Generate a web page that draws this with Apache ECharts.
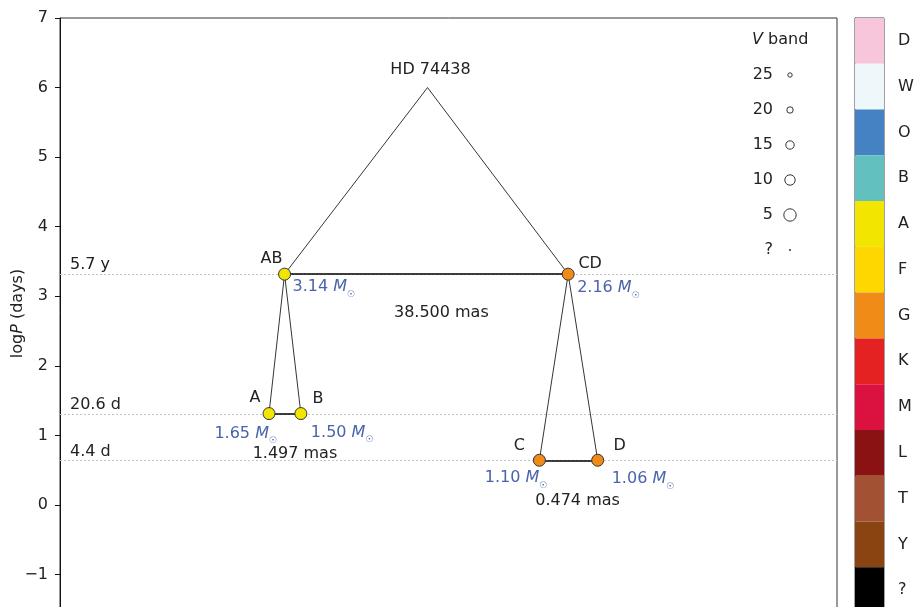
<!DOCTYPE html>
<html>
<head>
<meta charset="UTF-8">
<title>HD 74438</title>
<script src="https://cdn.jsdelivr.net/npm/echarts@6/dist/echarts.min.js"></script>
<style>
  html, body { margin: 0; padding: 0; background: #fff; }
  #chart { width: 919px; height: 607px; }
</style>
</head>
<body>
<div id="chart"></div>
<script type="text/javascript">
// hierarchy nodes: horizontal slot (0-100, no units), logP (days), mass (Msun), spectral class
var nodeNames = ['HD 74438', 'AB', 'CD', 'A', 'B', 'C', 'D'];
var nodeX = [47.3, 28.9, 65.4, 26.9, 31.0, 61.7, 69.2];
var nodeLogP = [6.0, 3.318, 3.318, 1.314, 1.314, 0.643, 0.643];
var nodeMass = [null, '3.14', '2.16', '1.65', '1.50', '1.10', '1.06'];
var nodeClass = [null, 'A', 'G', 'A', 'A', 'G', 'G'];

// tree edges parent -> child
var edgeFrom = ['HD 74438', 'HD 74438', 'AB', 'AB', 'CD', 'CD'];
var edgeTo = ['AB', 'CD', 'A', 'B', 'C', 'D'];

// orbits
var orbitPairs = [['AB', 'CD'], ['A', 'B'], ['C', 'D']];
var orbitSep = ['38.500', '1.497', '0.474'];
var orbitPeriod = ['5.7 y', '20.6 d', '4.4 d'];
var orbitLogP = [3.318, 1.314, 0.643];

var yTicks = [-1, 0, 1, 2, 3, 4, 5, 6, 7];

// spectral class colour bar
var classNames = ['D', 'W', 'O', 'B', 'A', 'F', 'G', 'K', 'M', 'L', 'T', 'Y', '?'];
var classColors = ['#f8c6da', '#eef7f9', '#4482c4', '#62c0be', '#f2e500', '#fed700', '#f18b18',
                   '#e32221', '#db1240', '#8a1213', '#a25232', '#894412', '#000000'];

// V band legend entries
var vBandLabels = ['25', '20', '15', '10', '5', '?'];

var FONT = 'DejaVu Sans';
var TXT = '#222';
var BLUE = '#4a64ac';

// label placement (pixels)
var nameOffset = { 'HD 74438': [3, -18], AB: [-13, -15], CD: [22, -10], A: [-14, -16],
                   B: [17, -15], C: [-20, -14], D: [22, -14] };
var massPlace = { AB: ['left', 8, 13], CD: ['left', 9, 14], A: ['right', 8, 20],
                  B: ['left', 10, 19], C: ['right', 8, 18], D: ['left', 14, 19] };
var sepOffset = [[15, 39], [10, 40], [9, 41]];

function idx(n) { return nodeNames.indexOf(n); }
function classColor(c) { return classColors[classNames.indexOf(c)]; }

var nodeData = [], massData = [];
for (var i = 0; i < nodeNames.length; i++) {
	var n = nodeNames[i];
	nodeData.push({
		name: n,
		value: [nodeX[i], nodeLogP[i]],
		symbolSize: nodeClass[i] ? 12 : 0,
		itemStyle: { color: nodeClass[i] ? classColor(nodeClass[i]) : 'transparent' },
		label: { offset: nameOffset[n] }
	});
	if (nodeMass[i]) {
		var p = massPlace[n];
		massData.push({
			name: nodeMass[i],
			value: [nodeX[i], nodeLogP[i]],
			label: { align: p[0], offset: [p[1], p[2]] }
		});
	}
}

var edgeData = [];
for (var i = 0; i < edgeFrom.length; i++) {
	var a = idx(edgeFrom[i]), b = idx(edgeTo[i]);
	edgeData.push({ coords: [[nodeX[a], nodeLogP[a]], [nodeX[b], nodeLogP[b]]] });
}

var orbitData = [], sepData = [], periodLines = [];
for (var i = 0; i < orbitPairs.length; i++) {
	var a = idx(orbitPairs[i][0]), b = idx(orbitPairs[i][1]);
	orbitData.push({ coords: [[nodeX[a], nodeLogP[a]], [nodeX[b], nodeLogP[b]]] });
	sepData.push({
		name: orbitSep[i] + ' mas',
		value: [(nodeX[a] + nodeX[b]) / 2, (nodeLogP[a] + nodeLogP[b]) / 2],
		label: { offset: sepOffset[i] }
	});
	periodLines.push({ yAxis: orbitLogP[i], label: { formatter: orbitPeriod[i] } });
}

// V band legend as graphic
var legendChildren = [{
	type: 'text', left: 752, top: 32,
	style: { text: '{i|V} band', fill: TXT, font: '16px ' + FONT,
		rich: { i: { fontStyle: 'italic', fontSize: 16, fontFamily: FONT, fill: TXT } } }
}];
for (var i = 0; i < vBandLabels.length; i++) {
	var cy = 75 + i * 35;
	legendChildren.push({
		type: 'text', x: 773, y: cy,
		style: { text: vBandLabels[i], fill: TXT, font: '16px ' + FONT, align: 'right', verticalAlign: 'middle' }
	});
	var mag = parseFloat(vBandLabels[i]);
	legendChildren.push({
		type: 'circle',
		shape: { cx: 790, cy: cy, r: isNaN(mag) ? 1 : 7.2 - mag / 5 },
		style: isNaN(mag) ? { fill: '#333' } : { fill: 'none', stroke: '#333', lineWidth: 1 }
	});
}

var chart = echarts.init(document.getElementById('chart'));
var option = {
	animation: false,
	textStyle: { fontFamily: FONT },
	grid: [
		{ left: 60, right: 82, top: 18, bottom: -2, show: true, borderColor: '#333', borderWidth: 1,
		  outerBoundsMode: 'none', containLabel: false },
		{ left: 855, width: 29, top: 18, height: 595, show: true, borderColor: '#444', borderWidth: 1,
		  outerBoundsMode: 'none', containLabel: false }
	],
	xAxis: [
		{ type: 'value', min: 0, max: 100, show: false, gridIndex: 0 },
		{ type: 'value', min: 0, max: 1, show: false, gridIndex: 1 }
	],
	yAxis: [
		{
			type: 'value', gridIndex: 0, min: -1.495, max: 7,
			name: '{a|log}{b|P}{a| (days)}', nameLocation: 'middle', nameGap: 34, nameRotate: 90,
			nameMoveOverlap: false,
			nameTextStyle: { rich: {
				a: { fontSize: 16, color: TXT, fontFamily: FONT },
				b: { fontSize: 16, color: TXT, fontFamily: FONT, fontStyle: 'italic' } } },
			axisLine: { show: true, lineStyle: { color: '#111', width: 1 } },
			axisTick: { show: true, length: 5, customValues: yTicks, lineStyle: { color: '#111' } },
			axisLabel: { customValues: yTicks, fontSize: 16, color: TXT, margin: 12,
				formatter: function (v) { return String(v).replace('-', '\u2212'); } },
			splitLine: { show: false }
		},
		{
			type: 'category', gridIndex: 1, data: classNames, inverse: true, position: 'right',
			axisLine: { show: true, lineStyle: { color: '#444' } },
			axisTick: { show: true, alignWithLabel: true, length: 6, lineStyle: { color: '#333' } },
			axisLabel: { fontSize: 16, color: TXT, margin: 14 },
			splitLine: { show: false }
		}
	],
	graphic: legendChildren,
	series: [
		{
			type: 'bar', xAxisIndex: 1, yAxisIndex: 1, silent: true,
			barWidth: '100%', barCategoryGap: '0%',
			data: classColors.map(function (c) { return { value: 1, itemStyle: { color: c } }; })
		},
		{
			type: 'line', xAxisIndex: 0, yAxisIndex: 0, data: [], silent: true, z: 1,
			markLine: {
				symbol: 'none', silent: true, z: 1,
				lineStyle: { type: [2, 2], color: '#c4c4c4', width: 1 },
				label: { position: 'insideStartTop', distance: [10, 1], color: TXT, fontSize: 16 },
				data: periodLines
			}
		},
		{
			type: 'lines', coordinateSystem: 'cartesian2d', silent: true, z: 3,
			lineStyle: { color: '#000', width: 0.8, opacity: 1 },
			data: edgeData
		},
		{
			type: 'lines', coordinateSystem: 'cartesian2d', silent: true, z: 3,
			lineStyle: { color: '#000', width: 1.5, opacity: 1 },
			data: orbitData
		},
		{
			type: 'scatter', silent: true, z: 5,
			itemStyle: { borderColor: '#333', borderWidth: 1, opacity: 1 },
			label: { show: true, position: 'inside', formatter: '{b}', fontSize: 16, color: TXT },
			data: nodeData
		},
		{
			type: 'scatter', silent: true, z: 6, symbolSize: 0,
			itemStyle: { opacity: 1 },
			label: {
				show: true, position: 'inside', formatter: '{n|{b} }{m|M}{s|\u2609}',
				rich: {
					n: { fontSize: 16, color: BLUE, lineHeight: 24 },
					m: { fontSize: 16, color: BLUE, fontStyle: 'italic', lineHeight: 24 },
					s: { fontSize: 9, color: BLUE, lineHeight: 8, verticalAlign: 'bottom' }
				}
			},
			data: massData
		},
		{
			type: 'scatter', silent: true, z: 6, symbolSize: 0,
			itemStyle: { opacity: 1 },
			label: { show: true, position: 'inside', formatter: '{b}', fontSize: 16, color: TXT },
			data: sepData
		}
	]
};
chart.setOption(option);
</script>
</body>
</html>
